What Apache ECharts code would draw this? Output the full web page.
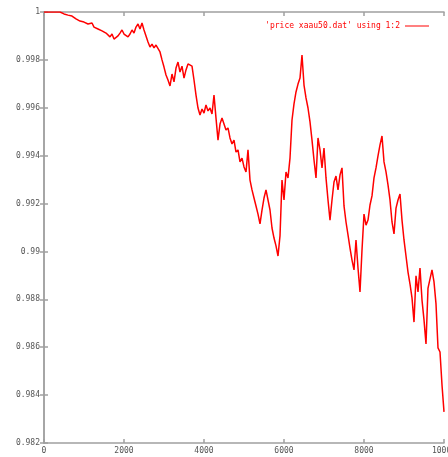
<!DOCTYPE html>
<html>
<head lang="en">
    <meta charset="UTF-8">
    <title>price</title>
    <script src="https://cdn.jsdelivr.net/npm/echarts@6/dist/echarts.min.js"></script>
    <style>
        html, body { margin: 0; padding: 0; background: #fff; }
        #container { width: 448px; height: 457px; }
    </style>
</head>
<body>
<div id="container"></div>
<script>
    // sample spacing on the x axis
    var xStep = 50;
    var xTicks = [0, 2000, 4000, 6000, 8000, 10000];
    var yTicks = [0.982, 0.984, 0.986, 0.988, 0.99, 0.992, 0.994, 0.996, 0.998, 1];
    var seriesName = "'price xaau50.dat' using 1:2";
    var price = [
        1.00000, 1.00000, 1.00000, 1.00000, 1.00000, 1.00000, 1.00000, 1.00000, 1.00000,
        0.99996, 0.99992, 0.99987, 0.99987, 0.99979, 0.99983, 0.99975, 0.99971, 0.99975,
        0.99962, 0.99967, 0.99958, 0.99962, 0.99950, 0.99946, 0.99954, 0.99937, 0.99942,
        0.99929, 0.99937, 0.99921, 0.99929, 0.99912, 0.99904, 0.99896, 0.99908, 0.99887,
        0.99883, 0.99900, 0.99912, 0.99925, 0.99908, 0.99916, 0.99896, 0.99908, 0.99925,
        0.99912, 0.99937, 0.99950, 0.99929, 0.99954, 0.99925, 0.99900, 0.99875, 0.99854,
        0.99866, 0.99850, 0.99862, 0.99854, 0.99833, 0.99800, 0.99770, 0.99737, 0.99716,
        0.99691, 0.99741, 0.99708, 0.99766, 0.99791, 0.99749, 0.99774, 0.99724, 0.99758,
        0.99783, 0.99791, 0.99774, 0.99716, 0.99653, 0.99599, 0.99570, 0.99595, 0.99578,
        0.99612, 0.99587, 0.99599, 0.99574, 0.99653, 0.99557, 0.99465, 0.99532, 0.99557,
        0.99532, 0.99507, 0.99516, 0.99474, 0.99449, 0.99465, 0.99415, 0.99424, 0.99374,
        0.99390, 0.99353, 0.99332, 0.99424, 0.99298, 0.99257, 0.99223, 0.99190, 0.99156,
        0.99115, 0.99173, 0.99223, 0.99257, 0.99265, 0.99173, 0.99098, 0.99056, 0.99023,
        0.98981, 0.99065, 0.99298, 0.99215, 0.99332, 0.99307, 0.99390, 0.99549, 0.99616,
        0.99666, 0.99699, 0.99724, 0.99820, 0.99695, 0.99641, 0.99599, 0.99541, 0.99465,
        0.99382, 0.99307, 0.99474, 0.99424, 0.99349, 0.99432, 0.99307, 0.99215, 0.99131,
        0.99215, 0.99290, 0.99315, 0.99257, 0.99319, 0.99349, 0.99190, 0.99123, 0.99069,
        0.99014, 0.98964, 0.98923, 0.99048, 0.98931, 0.98831, 0.99006, 0.99156, 0.99110,
        0.99131, 0.99194, 0.99232, 0.99307, 0.99349, 0.99399, 0.99445, 0.99482, 0.99374,
        0.99332, 0.99278, 0.99215, 0.99123, 0.99073, 0.99181, 0.99215, 0.99240, 0.99131,
        0.99048, 0.98981, 0.98914, 0.98864, 0.98806, 0.98705, 0.98898, 0.98831, 0.98931,
        0.98797, 0.98714, 0.98614, 0.98847, 0.98839, 0.98923, 0.98873, 0.98781, 0.98597,
        0.98580, 0.98442, 0.98330
    ];

    var points = price.map(function (v, i) { return [i * xStep, v]; });

    var labelStyle = { color: '#555', fontFamily: 'DejaVu Sans Mono', fontSize: 8 };
    var lineStyle = { color: '#a0a0a0', width: 1.5 };

    var myChart = echarts.init(document.getElementById('container'));
    myChart.setOption({
        animation: false,
        grid: { left: 44, right: 4, top: 12, bottom: 14, outerBoundsMode: 'none', containLabel: false },
        legend: {
            data: [seriesName],
            right: 14,
            top: 17,
            align: 'right',
            icon: 'rect',
            itemWidth: 24,
            itemHeight: 1,
            itemGap: 6,
            textStyle: { color: '#ff0000', fontFamily: 'DejaVu Sans Mono', fontSize: 8 }
        },
        xAxis: [{
            type: 'value',
            min: xTicks[0],
            max: xTicks[xTicks.length - 1],
            interval: 2000,
            axisLine: { lineStyle: lineStyle },
            axisTick: { inside: true, length: 4, lineStyle: lineStyle },
            axisLabel: {
                margin: 4, color: labelStyle.color, fontFamily: labelStyle.fontFamily, fontSize: labelStyle.fontSize,
                formatter: function (v) { return String(v); }
            },
            splitLine: { show: false }
        }, {
            type: 'value',
            position: 'top',
            min: xTicks[0],
            max: xTicks[xTicks.length - 1],
            interval: 2000,
            axisLine: { lineStyle: lineStyle },
            axisTick: { inside: true, length: 4, lineStyle: lineStyle },
            axisLabel: { show: false },
            splitLine: { show: false }
        }],
        yAxis: [{
            type: 'value',
            min: yTicks[0],
            max: yTicks[yTicks.length - 1],
            interval: 0.002,
            axisLine: { show: true, lineStyle: lineStyle },
            axisTick: { show: true, inside: true, length: 4, lineStyle: lineStyle },
            axisLabel: { margin: 4, color: labelStyle.color, fontFamily: labelStyle.fontFamily, fontSize: labelStyle.fontSize },
            splitLine: { show: false }
        }, {
            type: 'value',
            position: 'right',
            min: yTicks[0],
            max: yTicks[yTicks.length - 1],
            interval: 0.002,
            axisLine: { show: true, lineStyle: lineStyle },
            axisTick: { show: true, inside: true, length: 4, lineStyle: lineStyle },
            axisLabel: { show: false },
            splitLine: { show: false }
        }],
        series: [{
            name: seriesName,
            type: 'line',
            data: points,
            showSymbol: false,
            symbol: 'none',
            itemStyle: { color: '#ff0000' },
            lineStyle: { color: '#ff0000', width: 1.5 }
        }]
    });
</script>
</body>
</html>
